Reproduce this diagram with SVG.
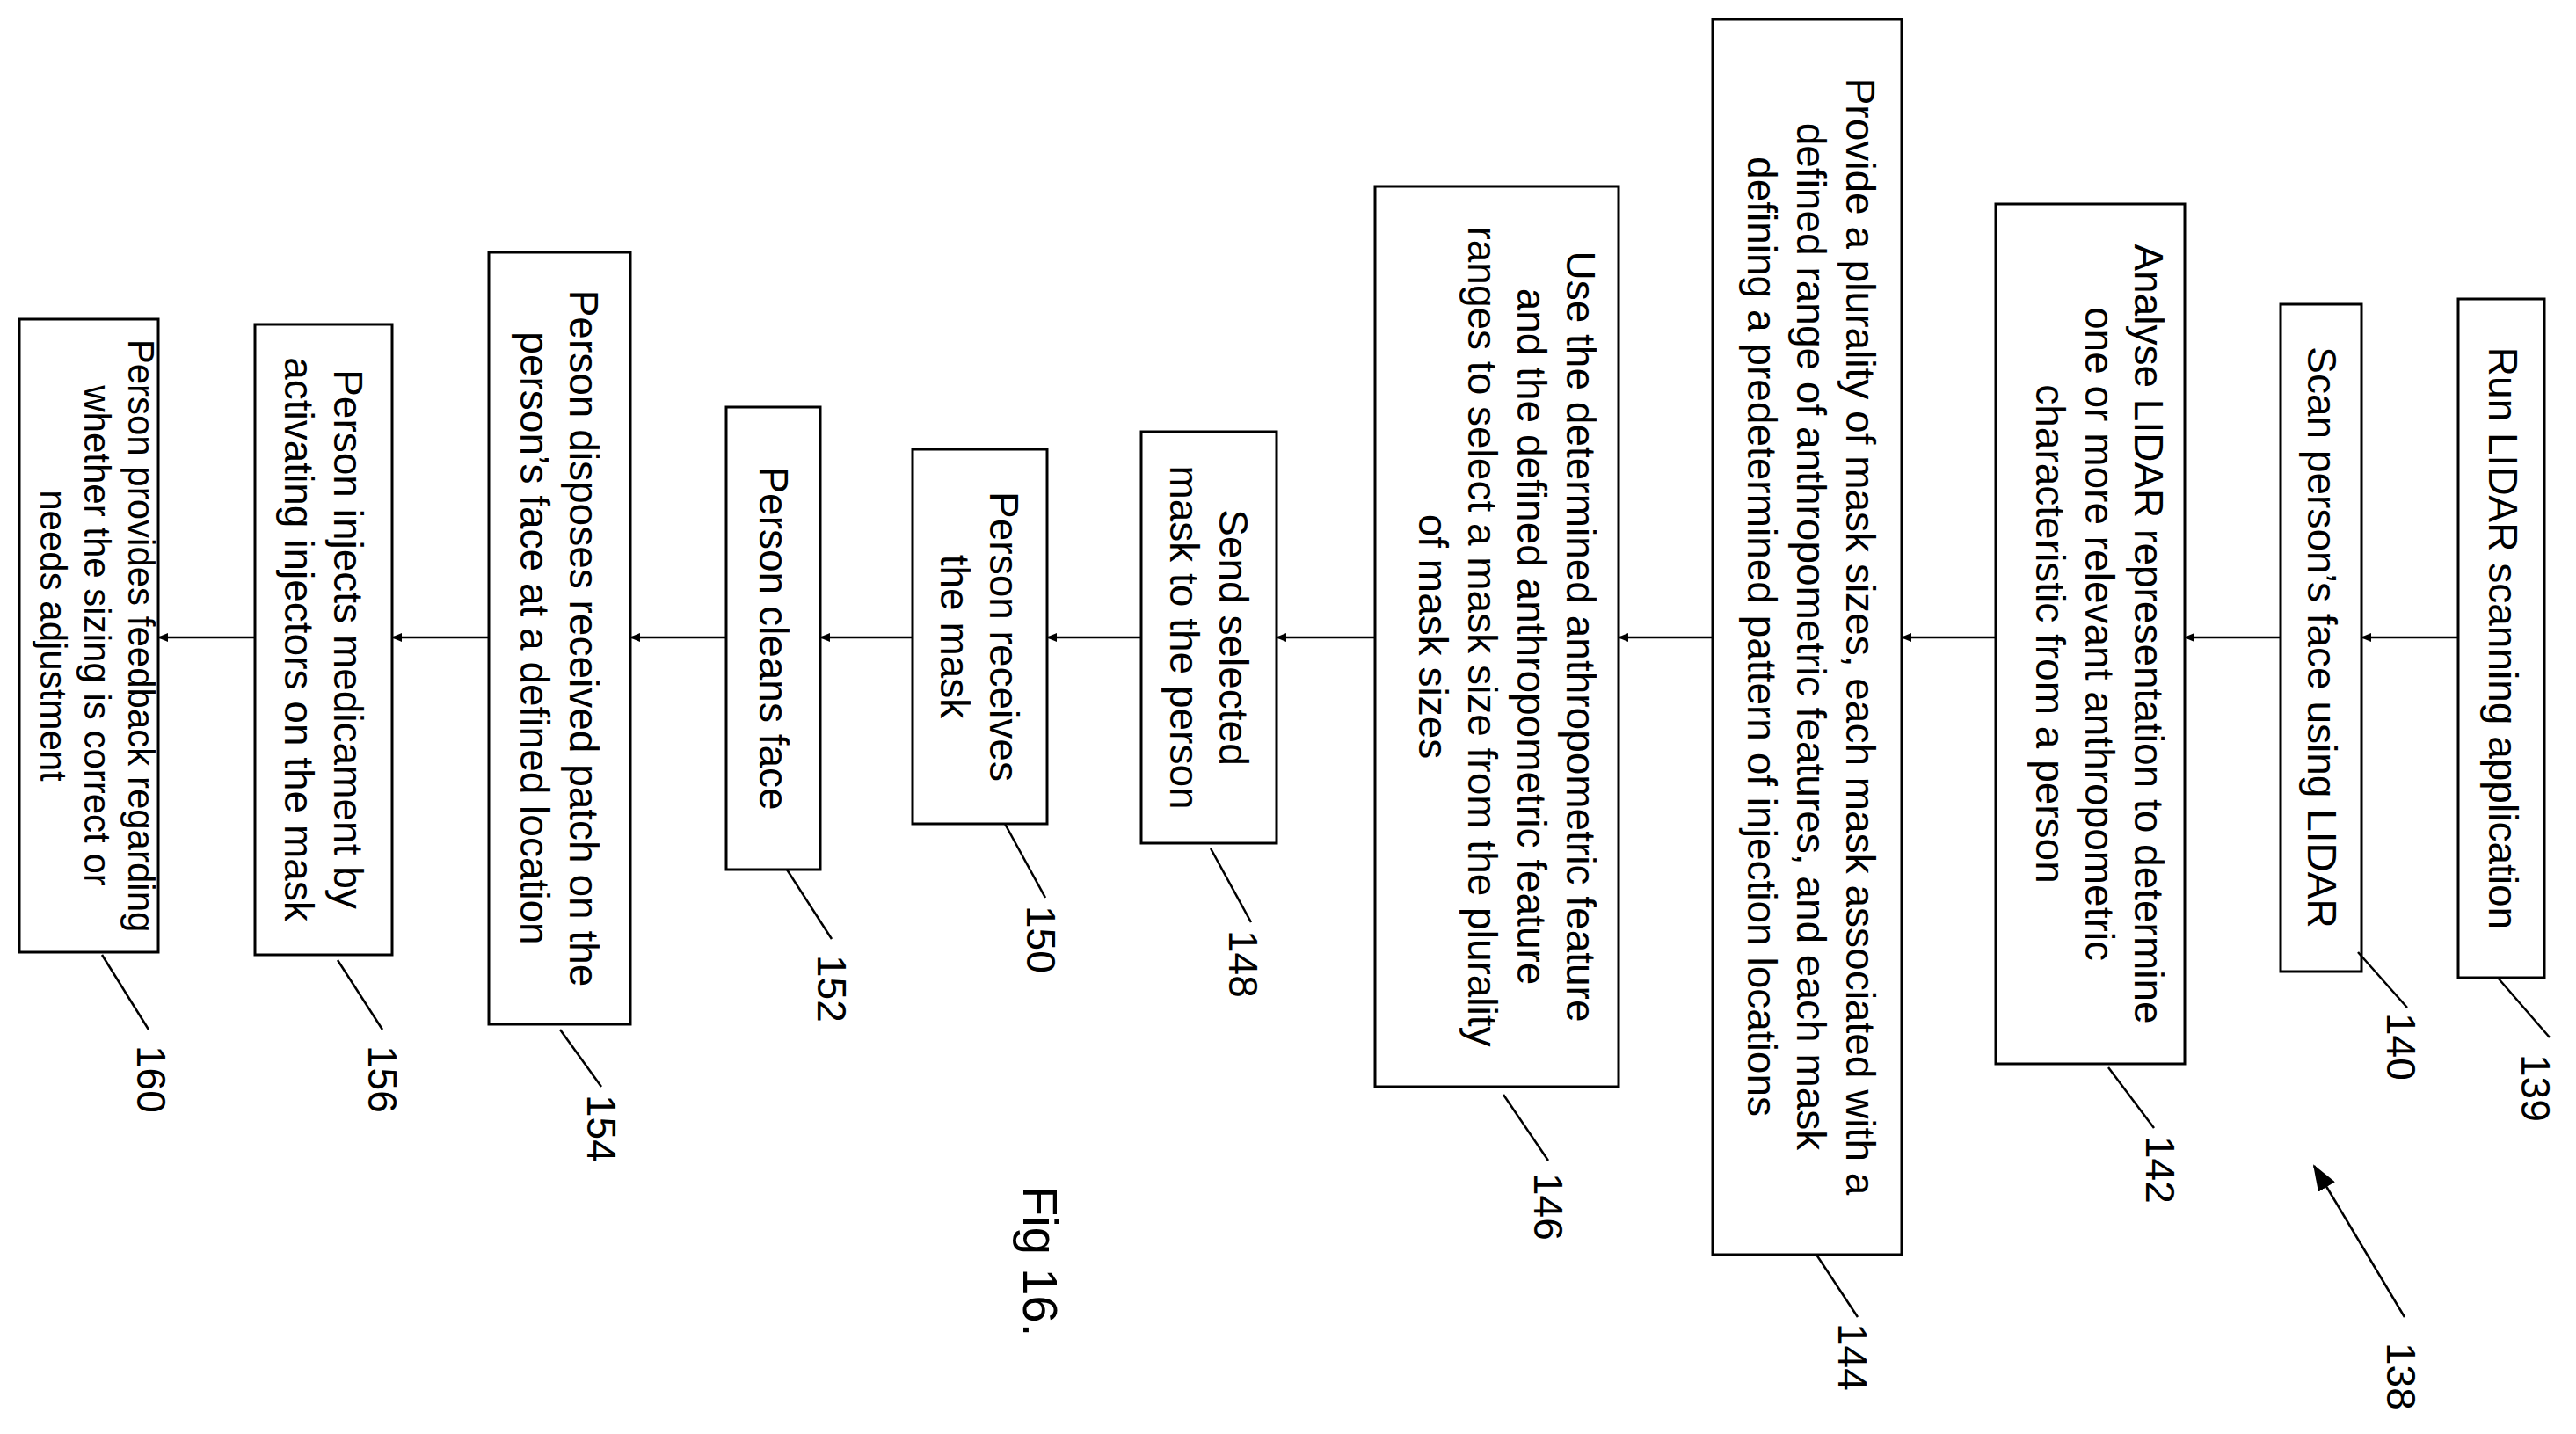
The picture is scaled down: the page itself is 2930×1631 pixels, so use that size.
<svg xmlns="http://www.w3.org/2000/svg" width="2930" height="1631" viewBox="0 0 2930 1631">
<style>
rect{fill:#fff;stroke:#000;stroke-width:3}
text{font-family:"Liberation Sans",Arial,sans-serif;font-size:46px;fill:#000}
.t{text-anchor:middle}
.c line{stroke:#000;stroke-width:2.5}
.l{stroke:#000;stroke-width:2.5}
</style>
<defs><marker id="a" markerWidth="12" markerHeight="10" refX="11" refY="5" orient="auto" markerUnits="userSpaceOnUse" viewBox="0 0 12 10"><path d="M0,0L12,5L0,10z" fill="#000"/></marker>
<marker id="b" markerWidth="30" markerHeight="22" refX="28" refY="11" orient="auto" markerUnits="userSpaceOnUse" viewBox="0 0 30 22"><path d="M0,0L30,11L0,22z" fill="#000"/></marker></defs>
<rect x="0" y="0" width="2930" height="1631" style="stroke:none"/>
<g class="c">
<line x1="2796" y1="725" x2="2686" y2="725" marker-end="url(#a)"/>
<line x1="2594" y1="725" x2="2485" y2="725" marker-end="url(#a)"/>
<line x1="2270" y1="725" x2="2163" y2="725" marker-end="url(#a)"/>
<line x1="1948" y1="725" x2="1841" y2="725" marker-end="url(#a)"/>
<line x1="1564" y1="725" x2="1452" y2="725" marker-end="url(#a)"/>
<line x1="1298" y1="725" x2="1191" y2="725" marker-end="url(#a)"/>
<line x1="1038" y1="725" x2="933" y2="725" marker-end="url(#a)"/>
<line x1="826" y1="725" x2="717" y2="725" marker-end="url(#a)"/>
<line x1="556" y1="725" x2="446" y2="725" marker-end="url(#a)"/>
<line x1="290" y1="725" x2="180" y2="725" marker-end="url(#a)"/>
<line x1="2735" y1="1498" x2="2632" y2="1326" marker-end="url(#b)"/>
</g>
<g id="n139"><rect x="2796" y="340" width="98" height="772"/><text class="t" transform="translate(2831,726) rotate(90)">Run LIDAR scanning application</text><line class="l" x1="2841" y1="1112" x2="2900" y2="1180"/><text transform="translate(2868,1199) rotate(90)">139</text></g>
<g id="n140"><rect x="2594" y="346" width="92" height="759"/><text class="t" transform="translate(2625,725) rotate(90)">Scan person’s face using LIDAR</text><line class="l" x1="2682" y1="1083" x2="2738" y2="1146"/><text transform="translate(2715,1152) rotate(90)">140</text></g>
<g id="n142"><rect x="2270" y="232" width="215" height="978"/><text class="t" transform="translate(2428,721) rotate(90)">Analyse LIDAR representation to determine</text><text class="t" transform="translate(2372,721) rotate(90)">one or more relevant anthropometric</text><text class="t" transform="translate(2316,721) rotate(90)">characteristic from a person</text><line class="l" x1="2398" y1="1214" x2="2450" y2="1283"/><text transform="translate(2441,1292) rotate(90)">142</text></g>
<g id="n144"><rect x="1948" y="22" width="215" height="1405"/><text class="t" transform="translate(2100,724) rotate(90)">Provide a plurality of mask sizes, each mask associated with a</text><text class="t" transform="translate(2044,724) rotate(90)">defined range of anthropometric features, and each mask</text><text class="t" transform="translate(1988,724) rotate(90)">defining a predetermined pattern of injection locations</text><line class="l" x1="2066" y1="1427" x2="2113" y2="1498"/><text transform="translate(2091,1505) rotate(90)">144</text></g>
<g id="n146"><rect x="1564" y="212" width="277" height="1024"/><text class="t" transform="translate(1782,724) rotate(90)">Use the determined anthropometric feature</text><text class="t" transform="translate(1726,724) rotate(90)">and the defined anthropometric feature</text><text class="t" transform="translate(1670,724) rotate(90)">ranges to select a mask size from the plurality</text><text class="t" transform="translate(1614,724) rotate(90)">of mask sizes</text><line class="l" x1="1710" y1="1245" x2="1761" y2="1320"/><text transform="translate(1745,1334) rotate(90)">146</text></g>
<g id="n148"><rect x="1298" y="491" width="154" height="468"/><text class="t" transform="translate(1387,725) rotate(90)">Send selected</text><text class="t" transform="translate(1331,725) rotate(90)">mask to the person</text><line class="l" x1="1377" y1="965" x2="1423" y2="1049"/><text transform="translate(1398,1058) rotate(90)">148</text></g>
<g id="n150"><rect x="1038" y="511" width="153" height="426"/><text class="t" transform="translate(1126,724) rotate(90)">Person receives</text><text class="t" transform="translate(1070,724) rotate(90)">the mask</text><line class="l" x1="1143" y1="937" x2="1189" y2="1021"/><text transform="translate(1168,1030) rotate(90)">150</text></g>
<g id="n152"><rect x="826" y="463" width="107" height="526"/><text class="t" transform="translate(864,726) rotate(90)">Person cleans face</text><line class="l" x1="895" y1="989" x2="946" y2="1068"/><text transform="translate(930,1086) rotate(90)">152</text></g>
<g id="n154"><rect x="556" y="287" width="161" height="878"/><text class="t" transform="translate(648,726) rotate(90)">Person disposes received patch on the</text><text class="t" transform="translate(592,726) rotate(90)">person’s face at a defined location</text><line class="l" x1="637" y1="1171" x2="684" y2="1236"/><text transform="translate(668,1245) rotate(90)">154</text></g>
<g id="n156"><rect x="290" y="369" width="156" height="717"/><text class="t" transform="translate(380,727) rotate(90)">Person injects medicament by</text><text class="t" transform="translate(324,727) rotate(90)">activating injectors on the mask</text><line class="l" x1="384" y1="1092" x2="435" y2="1171"/><text transform="translate(419,1189) rotate(90)">156</text></g>
<g id="n160"><rect x="22" y="363" width="158" height="720"/><text class="t" style="font-size:42px" transform="translate(146,723) rotate(90)">Person provides feedback regarding</text><text class="t" style="font-size:42px" transform="translate(96,723) rotate(90)">whether the sizing is correct or</text><text class="t" style="font-size:42px" transform="translate(46,723) rotate(90)">needs adjustment</text><line class="l" x1="116" y1="1086" x2="169" y2="1171"/><text transform="translate(156,1189) rotate(90)">160</text></g>
<g id="n138"><text transform="translate(2715,1527) rotate(90)">138</text></g>
<text style="font-size:56px" transform="translate(1164,1349) rotate(90)">Fig 16.</text>
</svg>
